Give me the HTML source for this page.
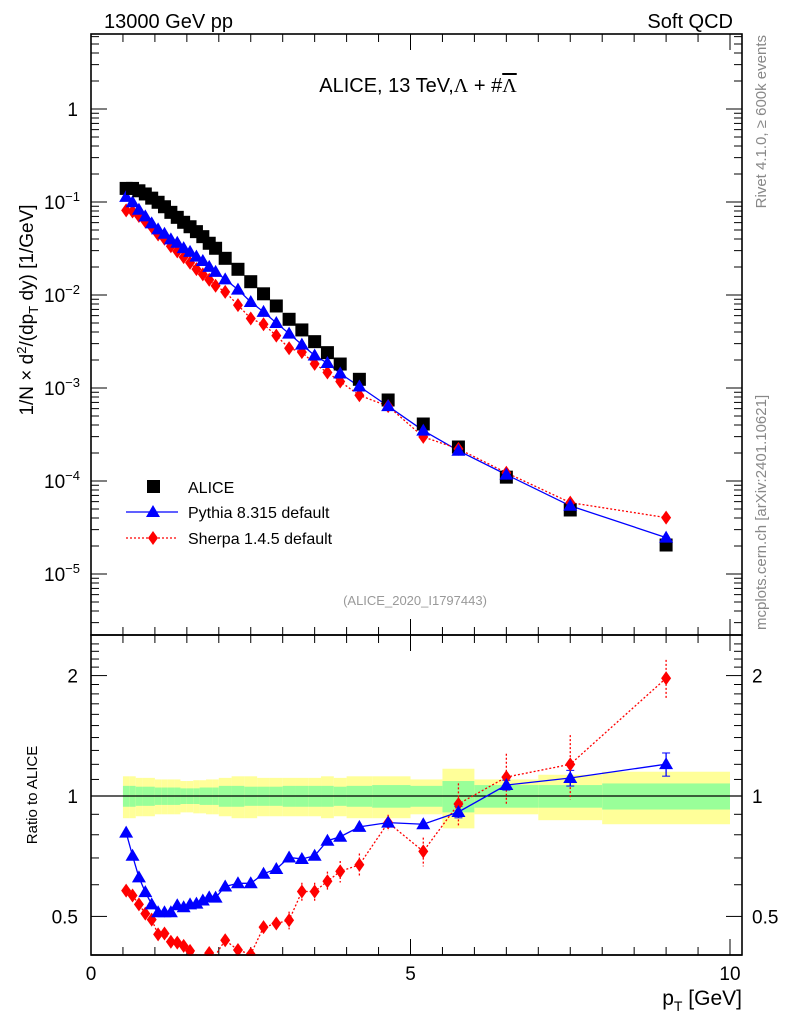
<!DOCTYPE html>
<html><head><meta charset="utf-8"><style>
html,body{margin:0;padding:0;background:#fff;}
svg{display:block;font-family:"Liberation Sans",sans-serif;}
</style></head><body>
<svg id="c" width="786" height="1024" viewBox="0 0 786 1024" xmlns="http://www.w3.org/2000/svg">
<g id="bands"></g>
<g id="grid"></g>
<g id="series"></g>
<text x="104" y="28" font-size="20">13000 GeV pp</text>
<text x="733" y="28" font-size="20" text-anchor="end">Soft QCD</text>
<text x="418" y="92" font-size="20" text-anchor="middle">ALICE, 13 TeV,<tspan font-family="Liberation Serif">Λ</tspan> + #<tspan font-family="Liberation Serif" text-decoration="overline">Λ</tspan></text>
<text x="415" y="605" font-size="13" fill="#999" text-anchor="middle">(ALICE_2020_I1797443)</text>
<text transform="translate(766,35) rotate(-90)" font-size="15" fill="#888" text-anchor="end">Rivet 4.1.0, ≥ 600k events</text>
<text transform="translate(766,630) rotate(-90)" font-size="15" fill="#888">mcplots.cern.ch [arXiv:2401.10621]</text>
<text transform="translate(33,310) rotate(-90)" font-size="19" text-anchor="middle">1/N × d<tspan font-size="13" dy="-7">2</tspan><tspan dy="7">/(dp</tspan><tspan font-size="13" dy="5">T</tspan><tspan dy="-5"> dy) [1/GeV]</tspan></text>
<text transform="translate(37,795) rotate(-90)" font-size="15" text-anchor="middle">Ratio to ALICE</text>
<text x="742" y="1005" font-size="21" text-anchor="end">p<tspan font-size="14" dy="6">T</tspan><tspan dy="-6"> [GeV]</tspan></text>
<g>
<rect x="147" y="480" width="13" height="13" fill="#000"/>
<text x="188" y="493" font-size="16">ALICE</text>
<line x1="126" y1="512" x2="178" y2="512" stroke="#00f" stroke-width="1.3"/>
<path d="M153,505 L160,517 L146,517Z" fill="#00f"/>
<text x="188" y="518" font-size="16">Pythia 8.315 default</text>
<line x1="126" y1="538" x2="178" y2="538" stroke="#f00" stroke-width="1.3" stroke-dasharray="2,2"/>
<path d="M153,531 L158,538 L153,545 L148,538Z" fill="#f00"/>
<text x="188" y="544" font-size="16">Sherpa 1.4.5 default</text>
</g>
</svg>
<script>
const pT=[0.55,0.65,0.75,0.85,0.95,1.05,1.15,1.25,1.35,1.45,1.55,1.65,1.75,1.85,1.95,2.1,2.3,2.5,2.7,2.9,3.1,3.3,3.5,3.7,3.9,4.2,4.65,5.2,5.75,6.5,7.5,9.0];
const binLo=[0.5,0.6,0.7,0.8,0.9,1.0,1.1,1.2,1.3,1.4,1.5,1.6,1.7,1.8,1.9,2.0,2.2,2.4,2.6,2.8,3.0,3.2,3.4,3.6,3.8,4.0,4.4,5.0,5.5,6.0,7.0,8.0];
const binHi=[0.6,0.7,0.8,0.9,1.0,1.1,1.2,1.3,1.4,1.5,1.6,1.7,1.8,1.9,2.0,2.2,2.4,2.6,2.8,3.0,3.2,3.4,3.6,3.8,4.0,4.4,5.0,5.5,6.0,7.0,8.0,10.0];
const alice=[0.140,0.140,0.132,0.122,0.110,0.0993,0.0889,0.0774,0.0684,0.0605,0.0542,0.0480,0.0424,0.0360,0.0318,0.0248,0.0189,0.0139,0.0103,0.00762,0.00548,0.00421,0.00315,0.00240,0.00181,0.00124,0.000743,0.000410,0.000232,0.000110,0.0000488,0.0000205];
const statErr=[0.06,0.06,0.055,0.055,0.055,0.05,0.05,0.05,0.05,0.045,0.045,0.045,0.05,0.05,0.05,0.06,0.06,0.055,0.055,0.055,0.06,0.06,0.06,0.06,0.055,0.06,0.065,0.06,0.09,0.065,0.065,0.075];
const totErr=[0.12,0.12,0.11,0.11,0.11,0.1,0.1,0.1,0.1,0.09,0.09,0.095,0.095,0.1,0.1,0.11,0.12,0.12,0.11,0.11,0.11,0.11,0.11,0.12,0.11,0.12,0.12,0.1,0.17,0.1,0.13,0.15];
const pythiaRatio=[0.81,0.709,0.626,0.575,0.536,0.512,0.512,0.512,0.533,0.527,0.536,0.538,0.548,0.558,0.557,0.594,0.605,0.605,0.639,0.657,0.702,0.696,0.709,0.773,0.791,0.837,0.858,0.850,0.912,1.065,1.109,1.201];
const pythiaErr=[0.01,0.01,0.01,0.01,0.01,0.01,0.01,0.01,0.01,0.01,0.01,0.01,0.01,0.01,0.01,0.01,0.01,0.01,0.01,0.01,0.01,0.01,0.01,0.015,0.015,0.015,0.02,0.02,0.03,0.03,0.05,0.08];
const sherpaRatio=[0.580,0.564,0.536,0.508,0.491,0.451,0.453,0.432,0.430,0.422,0.410,0.395,0.393,0.405,0.395,0.436,0.412,0.402,0.470,0.480,0.489,0.577,0.577,0.612,0.648,0.673,0.858,0.727,0.955,1.115,1.20,1.97];
const sherpaErr=[0.01,0.01,0.01,0.01,0.01,0.01,0.01,0.01,0.01,0.01,0.01,0.01,0.01,0.01,0.01,0.015,0.015,0.02,0.02,0.02,0.025,0.03,0.03,0.035,0.04,0.045,0.04,0.06,0.12,0.16,0.22,0.22];
const mainTickExps=[0,-1,-2,-3,-4,-5];
const ratioTicks=[0.5,1,2];
const xTicks=[0,5,10];

const NS="http://www.w3.org/2000/svg";
const L=91,R=742,T=34,MB=635,RB=955;
const X=v=>L+(v/10)*(730-L)+ (v/10)*0; // 0->91, 10->730
const xs=v=>91+v*63.9;
const Y=v=>109-93*Math.log10(v);
const RY=v=>796-400*Math.log10(v);
const RMIN=Math.pow(10,(796-RB)/400), RMAX=Math.pow(10,(796-MB)/400);
function el(p,tag,a){const e=document.createElementNS(NS,tag);for(const k in a)e.setAttribute(k,a[k]);p.appendChild(e);return e;}
const G=document.getElementById('grid'),S=document.getElementById('series'),B=document.getElementById('bands');

// bands
for(let i=0;i<pT.length;i++){
  const x0=xs(binLo[i]),x1=xs(binHi[i]);
  const y=el(B,'rect',{x:x0,y:RY(1+totErr[i]),width:x1-x0,height:RY(1-totErr[i])-RY(1+totErr[i]),fill:'#ffff99'});
  
  
  const g=el(B,'rect',{x:x0,y:RY(1+statErr[i]),width:x1-x0,height:RY(1-statErr[i])-RY(1+statErr[i]),fill:'#99ff99'});
  
  
}
// frames
for(const [t,b,n] of [[T,MB,'main-frame'],[MB,RB,'ratio-frame']]){
  const f=el(G,'rect',{x:L,y:t,width:R-L,height:b-t,fill:'none',stroke:'#000','stroke-width':1.6});
  
  
}
const one=el(G,'line',{x1:L,x2:R,y1:RY(1),y2:RY(1),stroke:'#000','stroke-width':1.2});


// x ticks
for(let v=0;v<=10.001;v+=0.5){
  const maj=Math.abs(v-Math.round(v/5)*5)<1e-6, len=maj?16:8, x=xs(v);
  for(const [yb,dir] of [[MB,-1],[T,1],[RB,-1],[MB,1]]) el(G,'line',{x1:x,x2:x,y1:yb,y2:yb+dir*len,stroke:'#000','stroke-width':1});
}
xTicks.forEach(v=>{const t=el(G,'text',{x:xs(v),y:980,'font-size':19,'text-anchor':'middle'});t.textContent=v;
  
  });
// main y ticks
for(let e=-6;e<=0;e++){for(let m=1;m<10;m++){const v=m*Math.pow(10,e),y=Y(v);if(y<T||y>MB)continue;const len=m==1?16:8;
  el(G,'line',{x1:L,x2:L+len,y1:y,y2:y,stroke:'#000'});el(G,'line',{x1:R,x2:R-len,y1:y,y2:y,stroke:'#000'});}}
mainTickExps.forEach(e=>{const t=el(G,'text',{x:e==0?78:80,y:Y(Math.pow(10,e))+7,'font-size':19,'text-anchor':'end'});
  if(e==0)t.textContent='1';else{t.textContent='10';const s=el(t,'tspan',{dy:-8,'font-size':13});s.textContent='−'+(-e);}
  
  });
// ratio ticks
for(let v=0.4;v<=2.5;v+=0.1){const y=RY(v);if(y<MB||y>RB)continue;const r=Math.round(v*10);const len=(r==5||r==10||r==20)?16:8;
  el(G,'line',{x1:L,x2:L+len,y1:y,y2:y,stroke:'#000'});el(G,'line',{x1:R,x2:R-len,y1:y,y2:y,stroke:'#000'});}
ratioTicks.forEach(v=>{for(const [x,a] of [[78,'end'],[752,'start']]){const t=el(G,'text',{x:x,y:RY(v)+7,'font-size':19,'text-anchor':a});t.textContent=v;
  
  }});

function tri(g,x,y,c){return el(g,'path',{d:`M${x},${y-7} L${x+7},${y+5} L${x-7},${y+5}Z`,fill:c});}
function dia(g,x,y,c){return el(g,'path',{d:`M${x},${y-7} L${x+5},${y} L${x},${y+7} L${x-5},${y}Z`,fill:c});}
const clip=(y,a,b)=>Math.max(a,Math.min(b,y));
// main series
const pyMain=alice.map((a,i)=>a*pythiaRatio[i]), shMain=alice.map((a,i)=>a*sherpaRatio[i]);
const pl=el(S,'polyline',{points:pT.map((p,i)=>xs(p)+','+Y(pyMain[i])).join(' '),fill:'none',stroke:'#00f','stroke-width':1.3});


const sl=el(S,'polyline',{points:pT.map((p,i)=>xs(p)+','+Y(shMain[i])).join(' '),fill:'none',stroke:'#f00','stroke-width':1.3,'stroke-dasharray':'2,2'});


pT.forEach((p,i)=>{
  const a=el(S,'rect',{x:xs(p)-6.5,y:Y(alice[i])-6.5,width:13,height:13,fill:'#000'});
  
  
  const s=dia(S,xs(p),Y(shMain[i]),'#f00');
  
  
  const t=tri(S,xs(p),Y(pyMain[i]),'#00f');
  
  
});
// ratio series
const rs=document.createElementNS(NS,'g');S.appendChild(rs);
const rsl=el(rs,'polyline',{points:pT.map((p,i)=>xs(p)+','+clip(RY(sherpaRatio[i]),MB,RB)).join(' '),fill:'none',stroke:'#f00','stroke-width':1.3,'stroke-dasharray':'2,2'});


const rpl=el(rs,'polyline',{points:pT.map((p,i)=>xs(p)+','+RY(pythiaRatio[i])).join(' '),fill:'none',stroke:'#00f','stroke-width':1.3});


pT.forEach((p,i)=>{
  const x=xs(p);
  if(sherpaErr[i]>0.02){el(rs,'line',{x1:x,x2:x,y1:clip(RY(sherpaRatio[i]+sherpaErr[i]),MB,RB),y2:clip(RY(sherpaRatio[i]-sherpaErr[i]),MB,RB),stroke:'#f00','stroke-dasharray':'2,2','stroke-width':1.3});}
  if(pythiaErr[i]>0.02){const y1=RY(pythiaRatio[i]+pythiaErr[i]),y2=RY(pythiaRatio[i]-pythiaErr[i]);
    el(rs,'line',{x1:x,x2:x,y1:y1,y2:y2,stroke:'#00f','stroke-width':1.3});
    el(rs,'line',{x1:x-4,x2:x+4,y1:y1,y2:y1,stroke:'#00f'});el(rs,'line',{x1:x-4,x2:x+4,y1:y2,y2:y2,stroke:'#00f'});}
  if(sherpaRatio[i]>=RMIN){const s=dia(rs,x,RY(sherpaRatio[i]),'#f00');
    
    }
  const t=tri(rs,x,RY(pythiaRatio[i]),'#00f');
  
  
});
// white mask below ratio frame to clip
const m=el(S,'rect',{x:L+1,y:RB+1,width:R-L-2,height:8,fill:'#fff'});


el(S,'line',{x1:L,x2:R,y1:RB,y2:RB,stroke:'#000','stroke-width':1.6});
</script>
</body></html>
